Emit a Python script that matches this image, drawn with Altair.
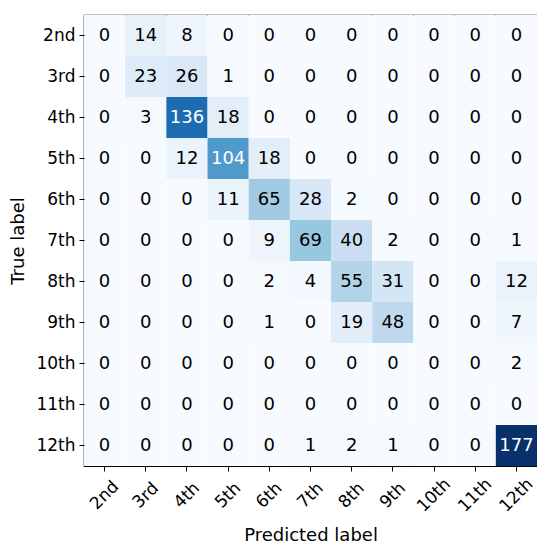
import altair as alt
import pandas as pd

labels = ["2nd", "3rd", "4th", "5th", "6th", "7th", "8th", "9th", "10th", "11th", "12th"]
matrix = [
    [0, 14, 8, 0, 0, 0, 0, 0, 0, 0, 0],
    [0, 23, 26, 1, 0, 0, 0, 0, 0, 0, 0],
    [0, 3, 136, 18, 0, 0, 0, 0, 0, 0, 0],
    [0, 0, 12, 104, 18, 0, 0, 0, 0, 0, 0],
    [0, 0, 0, 11, 65, 28, 2, 0, 0, 0, 0],
    [0, 0, 0, 0, 9, 69, 40, 2, 0, 0, 1],
    [0, 0, 0, 0, 2, 4, 55, 31, 0, 0, 12],
    [0, 0, 0, 0, 1, 0, 19, 48, 0, 0, 7],
    [0, 0, 0, 0, 0, 0, 0, 0, 0, 0, 2],
    [0, 0, 0, 0, 0, 0, 0, 0, 0, 0, 0],
    [0, 0, 0, 0, 0, 1, 2, 1, 0, 0, 177],
]
blues = ["#f7fbff", "#deebf7", "#c6dbef", "#9ecae1", "#6baed6",
         "#4292c6", "#2171b5", "#08519c", "#08306b"]

rows = []
for i, t in enumerate(labels):
    for j, p in enumerate(labels):
        rows.append({"true": t, "pred": p, "value": matrix[i][j]})
df = pd.DataFrame(rows)

vmax = max(max(r) for r in matrix)
domain = [vmax * k / (len(blues) - 1) for k in range(len(blues))]
thresh = vmax / 2

FONT = "DejaVu Sans"

base = alt.Chart(df).encode(
    x=alt.X("pred:N", sort=labels, title="Predicted label",
            axis=alt.Axis(labelAngle=-45, labelAlign="center", labelBaseline="middle",
                          labelFontSize=17, titleFontSize=18, labelFont=FONT, titleFont=FONT,
                          labelColor="black", titleColor="black", tickColor="black",
                          domain=False, tickSize=5, labelPadding=24, titlePadding=12,
                          titleFontWeight="normal")),
    y=alt.Y("true:N", sort=labels, title="True label",
            axis=alt.Axis(labelFontSize=17, titleFontSize=18, labelFont=FONT, titleFont=FONT,
                          labelColor="black", titleColor="black", tickColor="black",
                          domain=False, tickSize=5, labelPadding=4, titlePadding=8,
                          titleFontWeight="normal")),
)

rect = base.mark_rect().encode(
    color=alt.Color("value:Q", scale=alt.Scale(domain=domain, range=blues), legend=None)
)
text = base.mark_text(font=FONT, fontSize=18).encode(
    text="value:Q",
    color=alt.condition(alt.datum.value > thresh, alt.value("white"), alt.value("black")),
)

chart = (rect + text).properties(
    width=453, height=451, padding={"left": 1, "top": 7, "right": 0, "bottom": 0}
).configure_view(stroke="black", strokeWidth=1.2).configure_scale(bandPaddingInner=0, bandPaddingOuter=0)

chart.save("out.html", embed_options={"renderer": "svg", "actions": False})
